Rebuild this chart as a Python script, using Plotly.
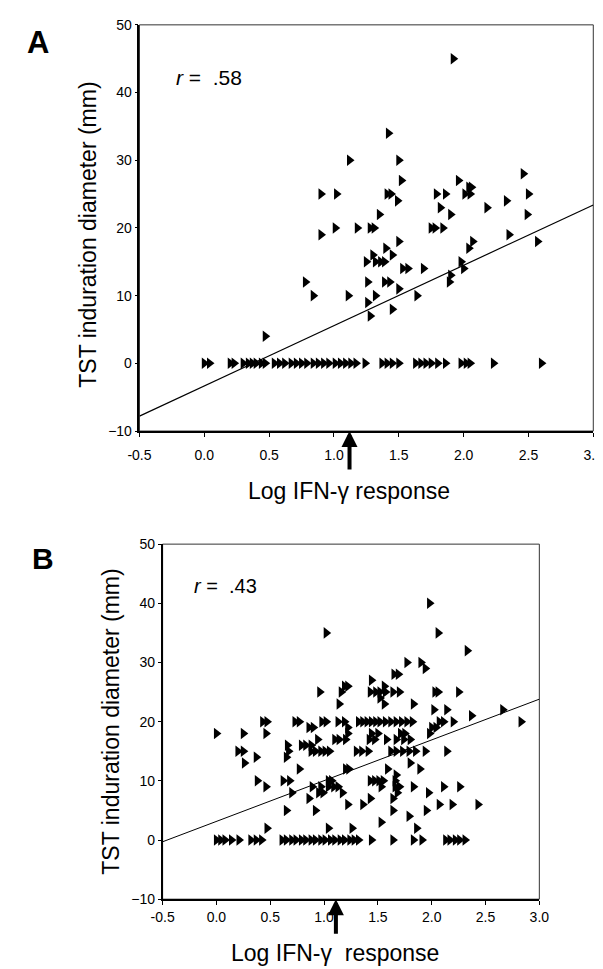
import plotly.graph_objects as go

# ---------------- Panel A data ----------------
a_x = [
    1.92,
    1.42,
    1.12, 1.50,
    2.46,
    1.52, 1.96,
    2.04, 2.06,
    0.90, 1.02, 1.41, 1.44, 1.79, 1.86, 2.01, 2.05, 2.50,
    1.49, 2.33,
    1.82, 2.18,
    1.35, 1.90, 2.49,
    1.01, 1.18, 1.28, 1.31, 1.75, 1.78, 1.84,
    0.90, 2.35,
    1.50, 2.07, 2.57,
    1.40, 2.04,
    1.30, 1.45,
    1.25, 1.32, 1.36, 1.39, 1.98,
    1.53, 1.57, 1.69, 2.00,
    1.90,
    0.78, 1.26, 1.39, 1.43, 1.89,
    1.50,
    0.84, 1.11, 1.32, 1.64,
    1.26,
    1.45,
    1.28,
    0.47,
    0.00, 0.04, 0.20, 0.23, 0.30, 0.34, 0.37, 0.40, 0.44, 0.47,
    0.54, 0.58, 0.62, 0.67, 0.71, 0.75, 0.79, 0.84, 0.88, 0.92, 0.96, 1.01, 1.05, 1.09, 1.13, 1.17,
    1.24, 1.37, 1.41, 1.45, 1.50, 1.63, 1.67, 1.71, 1.75, 1.80, 1.86,
    1.98, 2.02, 2.05, 2.23, 2.60,
]
a_y = [
    45,
    34,
    30, 30,
    28,
    27, 27,
    26, 26,
    25, 25, 25, 25, 25, 25, 25, 25, 25,
    24, 24,
    23, 23,
    22, 22, 22,
    20, 20, 20, 20, 20, 20, 20,
    19, 19,
    18, 18, 18,
    17, 17,
    16, 16,
    15, 15, 15, 15, 15,
    14, 14, 14, 14,
    13,
    12, 12, 12, 12, 12,
    11,
    10, 10, 10, 10,
    9,
    8,
    7,
    4,
    0, 0, 0, 0, 0, 0, 0, 0, 0, 0,
    0, 0, 0, 0, 0, 0, 0, 0, 0, 0, 0, 0, 0, 0, 0, 0,
    0, 0, 0, 0, 0, 0, 0, 0, 0, 0, 0,
    0, 0, 0, 0, 0,
]
a_fit_x = [-0.5, 3.0]
a_fit_y = [-7.8, 23.4]
a_r_label = ".58"

# ---------------- Panel B data ----------------
b_x = [
    1.98,
    1.02, 2.06,
    2.33,
    1.77, 1.90,
    1.94,
    1.65, 1.69,
    1.44,
    1.19, 1.22, 1.56,
    0.96, 1.16, 1.43, 1.48, 1.52, 1.57, 1.64, 1.70, 2.03, 2.06, 2.25,
    1.52,
    1.14, 1.56, 1.83,
    2.02, 2.14, 2.66,
    2.37,
    0.43, 0.47, 0.73, 0.77, 0.98, 1.02, 1.13, 1.19, 1.32, 1.36, 1.40, 1.44,
    1.48, 1.52, 1.57, 1.62, 1.67, 1.72, 1.77, 1.82, 2.07, 2.11, 2.20, 2.83,
    0.86, 0.90, 1.22, 2.00, 2.04,
    0.00, 0.25, 0.46, 1.22, 1.44, 1.50, 1.71, 1.75, 1.98,
    0.94, 1.10, 1.14, 1.20, 1.42, 1.47, 1.58, 1.67, 1.74, 1.80,
    0.66, 0.79, 0.83, 0.88,
    0.20, 0.25, 0.67, 0.88, 0.92, 0.97, 1.01, 1.05, 1.30, 1.35, 1.41,
    1.62, 1.67, 1.73, 1.79, 1.85, 1.94, 2.14,
    0.37, 0.65,
    0.26, 1.80,
    0.77, 1.20, 1.23, 1.59, 1.89,
    1.67,
    0.38, 0.62, 0.68, 1.04, 1.07, 1.43, 1.47, 1.51, 1.55, 1.66,
    0.46, 0.89, 0.97, 1.04, 1.09, 1.13, 1.53, 1.66, 1.70, 1.83, 2.11, 2.26,
    0.70, 0.95, 0.99, 1.17, 1.68, 1.97,
    0.86, 1.43, 1.64,
    1.22, 1.36, 2.07, 2.19, 2.43,
    0.65, 0.92, 1.64, 1.95,
    1.79,
    1.53,
    0.47, 1.04, 1.26, 1.86,
    0.00, 0.04, 0.08, 0.14, 0.21, 0.32, 0.37, 0.42,
    0.61, 0.65, 0.70, 0.74, 0.79, 0.83, 0.88, 0.92, 0.97, 1.01, 1.06, 1.10,
    1.15, 1.19, 1.24, 1.28, 1.32,
    1.44, 1.64, 1.83, 1.91, 2.13, 2.17, 2.22, 2.26, 2.31,
]
b_y = [
    40,
    35, 35,
    32,
    30, 30,
    29,
    28, 28,
    27,
    26, 26, 26,
    25, 25, 25, 25, 25, 25, 25, 25, 25, 25, 25,
    24,
    23, 23, 23,
    22, 22, 22,
    21,
    20, 20, 20, 20, 20, 20, 20, 20, 20, 20, 20, 20,
    20, 20, 20, 20, 20, 20, 20, 20, 20, 20, 20, 20,
    19, 19, 19, 19, 19,
    18, 18, 18, 18, 18, 18, 18, 18, 18,
    17, 17, 17, 17, 17, 17, 17, 17, 17, 17,
    16, 16, 16, 16,
    15, 15, 15, 15, 15, 15, 15, 15, 15, 15, 15,
    15, 15, 15, 15, 15, 15, 15,
    14, 14,
    13, 13,
    12, 12, 12, 12, 12,
    11,
    10, 10, 10, 10, 10, 10, 10, 10, 10, 10,
    9, 9, 9, 9, 9, 9, 9, 9, 9, 9, 9, 9,
    8, 8, 8, 8, 8, 8,
    7, 7, 7,
    6, 6, 6, 6, 6,
    5, 5, 5, 5,
    4,
    3,
    2, 2, 2, 2,
    0, 0, 0, 0, 0, 0, 0, 0,
    0, 0, 0, 0, 0, 0, 0, 0, 0, 0, 0, 0,
    0, 0, 0, 0, 0,
    0, 0, 0, 0, 0, 0, 0, 0, 0,
]
b_fit_x = [-0.5, 3.0]
b_fit_y = [-0.3, 23.8]
b_r_label = ".43"

# Shared axis info
x_tickvals = [-0.5, 0.0, 0.5, 1.0, 1.5, 2.0, 2.5, 3.0]
x_ticktext = ["-0.5", "0.0", "0.5", "1.0", "1.5", "2.0", "2.5", "3.0"]
y_tickvals = [-10, 0, 10, 20, 30, 40, 50]
cutoff_x = [1.12, 1.11]   # arrow positions on the x axes (A, B)

FONT = "Liberation Sans, Arial, Helvetica, sans-serif"

fig = go.Figure()
marker = dict(symbol="triangle-right", size=10, color="black", line=dict(width=0))

fig.add_trace(go.Scatter(x=a_x, y=a_y, mode="markers", marker=marker,
                         xaxis="x", yaxis="y", hoverinfo="skip"))
fig.add_trace(go.Scatter(x=a_fit_x, y=a_fit_y, mode="lines",
                         line=dict(color="black", width=1.2),
                         xaxis="x", yaxis="y", hoverinfo="skip"))
fig.add_trace(go.Scatter(x=b_x, y=b_y, mode="markers", marker=marker,
                         xaxis="x2", yaxis="y2", hoverinfo="skip"))
fig.add_trace(go.Scatter(x=b_fit_x, y=b_fit_y, mode="lines",
                         line=dict(color="black", width=1.0),
                         xaxis="x2", yaxis="y2", hoverinfo="skip"))

W, H = 603, 969
a_dom_x = [124 / W, 595 / W]
a_dom_y = [1 - 422 / H, 1 - 9 / H]
b_dom_x = [148 / W, 539 / W]
b_dom_y = [1 - 898 / H, 1 - 537 / H]

def xax(domain, anchor, standoff):
    return dict(domain=domain, anchor=anchor, range=[-0.5, 3.0],
                tickvals=x_tickvals, ticktext=x_ticktext,
                ticks="outside", ticklen=4, tickwidth=1, tickcolor="black",
                showline=True, linecolor="black", linewidth=1.6,
                showgrid=False, zeroline=False,
                ticklabelstandoff=standoff, ticklabeloverflow="allow",
                tickfont=dict(family=FONT, size=14, color="black"))

def yax(domain, anchor):
    return dict(domain=domain, anchor=anchor, range=[-10, 50],
                tickvals=y_tickvals,
                ticks="outside", ticklen=3, tickwidth=1, tickcolor="black",
                showline=True, linecolor="black", linewidth=1.6,
                showgrid=False, zeroline=False,
                ticklabelstandoff=0, ticklabeloverflow="allow",
                tickfont=dict(family=FONT, size=14, color="black"))

fig.update_layout(
    width=W, height=H,
    margin=dict(l=0, r=0, t=0, b=0),
    paper_bgcolor="white", plot_bgcolor="white",
    showlegend=False, hovermode=False,
    xaxis=xax(a_dom_x, "y", 6),
    yaxis=yax(a_dom_y, "x"),
    xaxis2=xax(b_dom_x, "y2", 0),
    yaxis2=yax(b_dom_y, "x2"),
)

# thin frame (top/right borders)
for xr, yr in [("x domain", "y domain"), ("x2 domain", "y2 domain")]:
    fig.add_shape(type="rect", xref=xr, yref=yr, x0=0, x1=1, y0=0, y1=1,
                  line=dict(color="#333", width=1), layer="below")

def txt(text, px, py, size, angle=0, xanchor="center"):
    return dict(text=text, x=px / W, y=1 - py / H, xref="paper", yref="paper",
                xanchor=xanchor, yanchor="middle", textangle=angle,
                showarrow=False, font=dict(family=FONT, size=size, color="black"))

ann = [
    txt("<b>A</b>", 19, 27, 31),
    txt("<b>B</b>", 24, 552, 30),
    txt("<i>r</i> =  " + a_r_label, 160, 63, 21, xanchor="left"),
    txt("<i>r</i> =  " + b_r_label, 178, 580, 20, xanchor="left"),
    txt("TST induration diameter (mm)", 71, 222, 23, angle=-90),
    txt("TST induration diameter (mm)", 95, 718, 23, angle=-90),
    txt("Log IFN-γ response", 341, 483, 23),
    txt("Log IFN-γ\u00a0 response", 327, 953, 23),
]
# cutoff arrows
ann.append(dict(text="", x=cutoff_x[0], y=a_dom_y[0], xref="x", yref="paper",
                showarrow=True, ax=0, ay=40, arrowhead=2, arrowsize=0.8,
                arrowwidth=4, arrowcolor="black", standoff=0))
ann.append(dict(text="", x=cutoff_x[1], y=b_dom_y[0], xref="x2", yref="paper",
                showarrow=True, ax=0, ay=36, arrowhead=2, arrowsize=0.8,
                arrowwidth=4, arrowcolor="black", standoff=0))
fig.update_layout(annotations=ann)

fig.write_html("out.html")
